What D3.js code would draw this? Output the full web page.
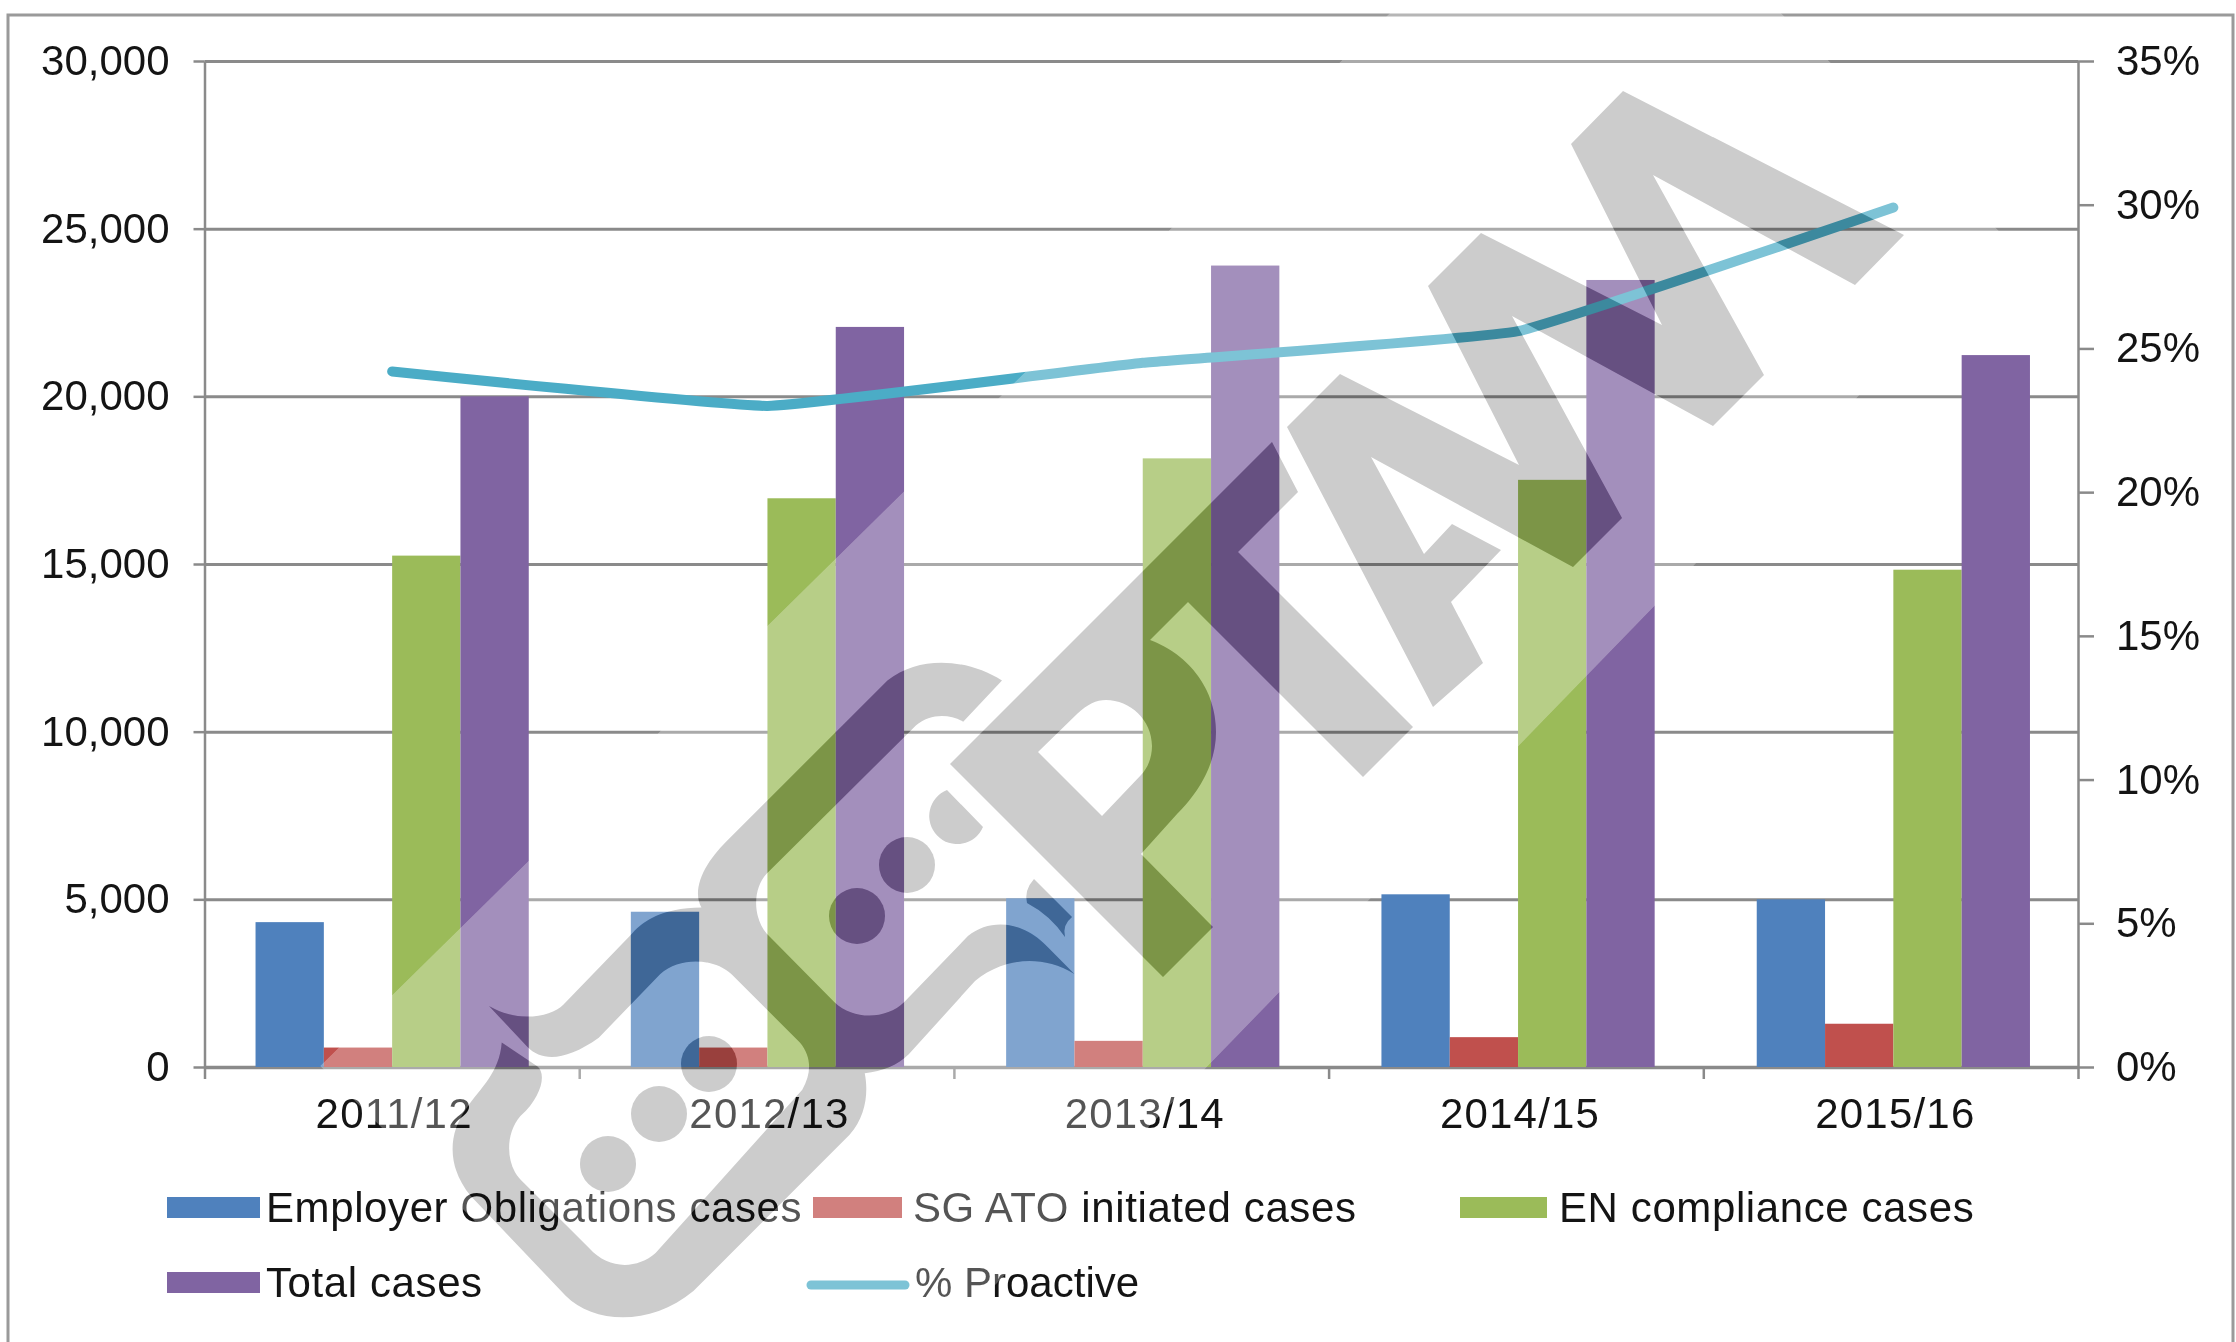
<!DOCTYPE html>
<html>
<head>
<meta charset="utf-8">
<title>Cases</title>
<script src="https://cdn.jsdelivr.net/npm/d3@7"></script>
<style>
  html, body { margin: 0; padding: 0; background: #fff; }
  svg { display: block; }
  text { font-family: "Liberation Sans", Arial, sans-serif; font-size: 42px; fill: #141414; filter: blur(0.5px); }
  .legend-label { letter-spacing: 0.6px; }
</style>
</head>
<body>
<div id="vis"></div>
<script>
////////////////////////////////////////
///////////////// Data /////////////////
////////////////////////////////////////

const years = ["2011/12", "2012/13", "2013/14", "2014/15", "2015/16"];
const seriesNames = ["Employer Obligations cases", "SG ATO initiated cases", "EN compliance cases", "Total cases"];
const lineName = "% Proactive";

const employerCases = [4320, 4630, 5030, 5150, 5000];
const atoCases = [580, 580, 780, 890, 1290];
const enCases = [15250, 16960, 18150, 17510, 14830];
const totalCases = [20000, 22070, 23900, 23470, 21230];
const proactive = [24.2, 23.0, 24.5, 25.6, 29.9];

const leftTicks = [0, 5000, 10000, 15000, 20000, 25000, 30000];
const rightTicks = [0, 5, 10, 15, 20, 25, 30, 35];

const colors = ["#4f81bd", "#c0504d", "#9bbb59", "#8064a2"];
const lineColor = "#4bacc6";

////////////////////////////////////////
/////////////// SVG Setup //////////////
////////////////////////////////////////

const width = 2236;
const height = 1342;
const margin = { top: 61, right: 158, bottom: 275, left: 204.5 };
const plotW = width - margin.left - margin.right;
const plotH = height - margin.top - margin.bottom;
const axisColor = "#8a8a8a";

const svg = d3.select("#vis").append("svg").attr("width", width).attr("height", height);

// frame round the chart, bottom edge is cut off in the picture
svg.append("path")
  .attr("d", d3.line()([[8, height], [8, 15], [2233, 15], [2233, height]]))
  .attr("fill", "none")
  .attr("stroke", "#9a9a9a")
  .attr("stroke-width", 3);

const g = svg.append("g").attr("transform", `translate(${margin.left},${margin.top})`);

////////////////////////////////////////
//////////////// Scales ////////////////
////////////////////////////////////////

// bars run a touch wider than the axis in the original
const x0 = d3.scaleBand().domain(years).range([0, plotW + 3]).paddingInner(0.272).paddingOuter(0.136);
const x1 = d3.scaleBand().domain(seriesNames).range([0, x0.bandwidth()]);
const yLeft = d3.scaleLinear().domain([0, 30000]).range([plotH, 0]);
const yRight = d3.scaleLinear().domain([0, 35]).range([plotH, 0]);
const xTicks = d3.scaleLinear().domain([0, years.length]).range([0, plotW]);

////////////////////////////////////////
///////////////// Axes /////////////////
////////////////////////////////////////

function styleAxis(sel) {
  sel.selectAll("line").attr("stroke", axisColor).attr("stroke-width", 2.5);
  sel.select(".domain").attr("stroke", axisColor).attr("stroke-width", 2.5);
}

// gridlines
g.append("g")
  .call(d3.axisLeft(yLeft).tickValues(leftTicks).tickSize(-plotW).tickFormat(""))
  .call(styleAxis)
  .call((a) => a.select(".domain").remove())
  .call((a) => a.selectAll("line").attr("stroke-width", 3));

g.append("g")
  .call(d3.axisLeft(yLeft).tickValues(leftTicks).tickSize(11).tickSizeOuter(0).tickPadding(24)
    .tickFormat((d) => d3.format(",")(d)))
  .call(styleAxis);

g.append("g")
  .attr("transform", `translate(${plotW},0)`)
  .call(d3.axisRight(yRight).tickValues(rightTicks).tickSize(16).tickSizeOuter(0).tickPadding(22)
    .tickFormat((d) => d + "%"))
  .call(styleAxis);

// category labels sit mid band, tick marks between the bands
g.append("g")
  .attr("transform", `translate(0,${plotH})`)
  .call(d3.axisBottom(x0).tickSize(0).tickPadding(31))
  .call((a) => a.select(".domain").remove())
  .call((a) => a.selectAll("text").attr("dx", 2).attr("letter-spacing", 1.2));

g.append("g")
  .attr("transform", `translate(0,${plotH})`)
  .call(d3.axisBottom(xTicks).ticks(years.length).tickSize(12).tickSizeOuter(0).tickFormat(""))
  .call(styleAxis)
  .call((a) => a.select(".domain").attr("stroke-width", 3.5));

////////////////////////////////////////
///////////////// Bars /////////////////
////////////////////////////////////////

[employerCases, atoCases, enCases, totalCases].forEach((values, i) => {
  g.append("g")
    .selectAll("rect")
    .data(values)
    .join("rect")
    .attr("x", (d, j) => x0(years[j]) + x1(seriesNames[i]))
    .attr("y", (d) => yLeft(d))
    .attr("width", x1.bandwidth())
    .attr("height", (d) => plotH - yLeft(d))
    .attr("fill", colors[i]);
});

////////////////////////////////////////
///////////////// Line /////////////////
////////////////////////////////////////

const line = d3.line()
  .x((d, j) => x0(years[j]) + x0.bandwidth() / 2)
  .y((d) => yRight(d))
  .curve(d3.curveCardinal.tension(0.7));

g.append("path")
  .datum(proactive)
  .attr("d", line)
  .attr("fill", "none")
  .attr("stroke", lineColor)
  .attr("stroke-width", 10)
  .attr("stroke-linecap", "round");

////////////////////////////////////////
//////////////// Legend ////////////////
////////////////////////////////////////

const swatchX = [167, 813, 1460, 167];
const swatchW = [93, 89, 87, 93];
const swatchY = [1197, 1197, 1197, 1272];
const labelX = [266, 913, 1559, 266];
const labelY = [1222, 1222, 1222, 1297];

seriesNames.forEach((name, i) => {
  svg.append("rect")
    .attr("x", swatchX[i]).attr("y", swatchY[i])
    .attr("width", swatchW[i]).attr("height", 21)
    .attr("fill", colors[i]);
  svg.append("text").attr("class", "legend-label").attr("x", labelX[i]).attr("y", labelY[i]).text(name);
});

svg.append("path")
  .attr("d", d3.line()([[811, 1285], [905, 1285]]))
  .attr("stroke", lineColor)
  .attr("stroke-width", 9)
  .attr("stroke-linecap", "round");
svg.append("text").attr("x", 915).attr("y", 1297).text(lineName);

////////////////////////////////////////
/////////////// Watermark //////////////
////////////////////////////////////////

// the grey logo across the picture, traced by hand, not data
const wmLetters = [
  "M1287 427 L1340 374 L1519 465 L1428 286 L1481 233 L1662 325 L1571 144 L1623 91 L1904 235 L1855 285 L1653 175 L1764 375 L1713 426 L1512 316 L1622 518 L1573 567 L1371 457 L1424 554 L1452 524 L1501 550 L1451 602 L1483 663 L1433 707 Z",
  "M950 764 L1272 442 L1298 492 L1238 552 L1413 727 L1363 777 L1188 602 L1150 640 C1190 655 1216 690 1216 732 C1216 765 1198 793 1177 814 L1141 854 L1213 927 L1163 977 Z M1038 752 L1077 714 C1088 704 1096 700 1106 700 C1130 700 1152 720 1152 746 C1152 757 1148 768 1141 775 L1102 816 Z",
  "M1034 879 L1072 917 Q1062 925 1065 937 Q1050 915 1027 903 Q1024 890 1034 879 Z",
];
// tag outline with its two waves, traced at 2.113x from (400,600)
const wmTag = "M1272 170 C1200 125 1100 115 1030 170 L690 510 C630 570 620 620 637 650 C570 650 520 670 490 705 L345 855 C320 880 250 895 188 858 L270 945 C300 975 350 975 420 925 L550 790 C590 755 660 755 700 790 L845 935 C870 965 870 1000 850 1035 L540 1380 C500 1415 440 1415 400 1370 L255 1225 C225 1195 220 1130 255 1090 C300 1050 310 1000 290 985 L215 935 C210 1000 170 1030 140 1075 C100 1130 100 1200 150 1260 L350 1470 C410 1530 530 1535 620 1460 L950 1130 C985 1090 990 1040 982 1000 C1020 995 1050 985 1075 960 L1215 805 C1270 760 1350 745 1425 790 L1370 735 C1320 680 1250 670 1200 710 L1065 850 C1030 885 960 890 918 850 L775 705 C745 670 745 610 775 578 L1090 265 C1120 240 1160 240 1190 257 Z";
const wmDots = [[608, 1164], [659, 1114], [709, 1064], [857, 916], [907, 865]];
const wmCutDot = "M947 790 A28 28 0 1 0 983 827 Z";

function drawGlyphs(parent, fill) {
  parent.selectAll("path.letter").data(wmLetters).join("path")
    .attr("class", "letter").attr("d", (d) => d).attr("fill", fill).attr("fill-rule", "evenodd");
  parent.append("path").attr("d", wmTag).attr("fill", fill)
    .attr("transform", `translate(400,600) scale(${1 / 2.113})`);
  parent.selectAll("circle").data(wmDots).join("circle")
    .attr("cx", (d) => d[0]).attr("cy", (d) => d[1]).attr("r", 28).attr("fill", fill);
  parent.append("path").attr("class", "cut").attr("d", wmCutDot).attr("fill", fill);
}

// pale diagonal square, the glyphs are punched out of it
const mask = svg.append("defs").append("mask")
  .attr("id", "wm-mask").attr("maskUnits", "userSpaceOnUse")
  .attr("x", 0).attr("y", 0).attr("width", width).attr("height", height);
const wmBand = [[320, 1066], [1587, -181], [2009, 241], [770, 1517]];
mask.append("polygon").attr("points", wmBand.join(" ")).attr("fill", "#fff");
drawGlyphs(mask.append("g"), "#000");

svg.append("polygon")
  .attr("points", wmBand.join(" "))
  .attr("fill", "#fff")
  .attr("fill-opacity", 0.28)
  .attr("mask", "url(#wm-mask)");

drawGlyphs(svg.append("g").attr("opacity", 0.2), "#000");
</script>
</body>
</html>
